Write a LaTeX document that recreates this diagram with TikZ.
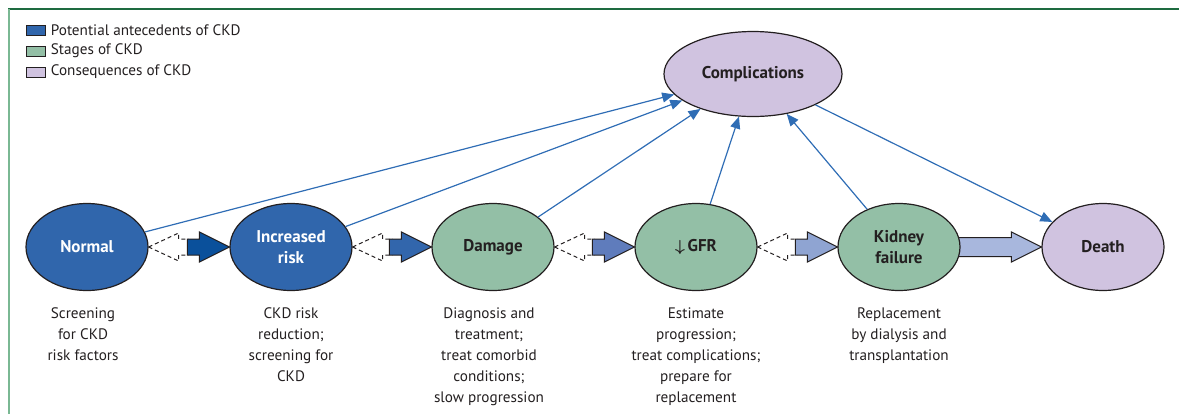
\documentclass[tikz,border=0pt]{standalone}
\usepackage{fontspec}
\setmainfont{PT Sans}
\usepackage{tikz}
\usetikzlibrary{shapes.geometric,arrows.meta,calc,backgrounds,positioning}
\definecolor{antec}{RGB}{48,102,172}
\definecolor{stage}{RGB}{147,191,166}
\definecolor{conseq}{RGB}{208,195,224}
\definecolor{ink}{RGB}{35,31,32}
\definecolor{linkblue}{RGB}{47,109,181}
\definecolor{arrA}{RGB}{10,80,155}
\definecolor{arrB}{RGB}{50,102,172}
\definecolor{arrC}{RGB}{95,124,188}
\definecolor{arrD}{RGB}{143,164,210}
\definecolor{arrE}{RGB}{168,183,221}
\definecolor{frametop}{RGB}{30,107,64}
\definecolor{frameleft}{RGB}{122,184,147}

\begin{document}
\begin{tikzpicture}[x=0.5pt,y=-0.5pt,
		every node/.style={font=\fontsize{7.6}{10.5}\selectfont,text=ink},
		oval/.style={ellipse,draw=ink,line width=0.6pt,minimum width=61pt,minimum height=43.5pt,
			inner sep=0pt,align=center,font=\fontsize{8.5}{10.5}\selectfont\bfseries},
		note/.style={align=center,anchor=north,inner sep=0pt},
		key/.style={draw=ink,line width=0.5pt,minimum width=9.5pt,minimum height=5pt,inner sep=0pt},
		keytext/.style={inner sep=0pt,anchor=west},
		link/.style={draw=linkblue,line width=0.6pt,-{Triangle[length=6pt,width=5pt]}},
		hint/.style={draw=ink,dash pattern=on 2pt off 1.5pt,line width=0.5pt},
		block/.style={draw=ink,line width=0.5pt,line join=miter}]
		\useasboundingbox (0,0) rectangle (1179,414);
		
		% frame
		\draw[frametop,line width=0.9pt] (8,9) -- (1179,9);
		\draw[frameleft,line width=1pt] (9,9) -- (9,414);
		
		% legend
		\node[key,fill=antec] (k1) at (35.5,30) {};
		\node[key,fill=stage] (k2) at (35.5,51) {};
		\node[key,fill=conseq] (k3) at (35.5,72) {};
		\node[keytext,right=2.5pt of k1] (t1) {Potential antecedents of CKD};
		\node[keytext,right=2.5pt of k2] (t2) {Stages of CKD};
		\node[keytext,right=2.5pt of k3] (t3) {Consequences of CKD};
		
		% stages
		\node[oval,fill=antec,text=white] (v1) at (87,247) {Normal};
		\node[oval,fill=antec,text=white] (v2) at (291,247) {Increased\\risk};
		\node[oval,fill=stage] (v3) at (493,247) {Damage};
		\node[oval,fill=stage] (v4) at (696,247) {{\boldmath$\downarrow$}\,GFR};
		\node[oval,fill=stage] (v5) at (899,247) {Kidney\\failure};
		\node[oval,fill=conseq] (v6) at (1103,247) {Death};
		\node[oval,fill=conseq,minimum width=89pt,minimum height=42.5pt] (c) at (753,74) {Complications};
		
		% actions below
		\node[note] (a1) at (83,307) {Screening\\for CKD\\risk factors};
		\node[note] (a2) at (291,307) {CKD risk\\reduction;\\screening for\\CKD};
		\node[note] (a3) at (489,307) {Diagnosis and\\treatment;\\treat comorbid\\conditions;\\slow progression};
		\node[note] (a4) at (696,307) {Estimate\\progression;\\treat complications;\\prepare for\\replacement};
		\node[note] (a5) at (899,307) {Replacement\\by dialysis and\\transplantation};
		
		% progression arrows
		\foreach \a/\b/\c in {v1/v2/arrA,v2/v3/arrB,v3/v4/arrC,v4/v5/arrD}{
			\draw[hint] (\a.east) -- ++(30,-14) -- ++(0,6) -- ++(10,0);
			\draw[hint] (\a.east) -- ++(30,14) -- ++(0,-6) -- ++(10,0);
			\draw[block,fill=\c] (\b.west) -- ++(-30,-15) -- ++(0,7) -- ++(-12,0)
				-- ++(0,16) -- ++(12,0) -- ++(0,7) -- cycle;
		}
		\begin{scope}[on background layer]
			\draw[block,fill=arrE] (v6.west) -- ++(-30,-15) -- ++(0,5.5) -- ($(v5.east)+(-8,-9.5)$)
				-- ++(0,19) -- ($(v6.west)+(-30,9.5)$) -- ++(0,5.5) -- cycle;
		\end{scope}
		
		% complications
		\foreach \n in {v1,v2,v3,v4,v5}
			\draw[link] (\n) -- (c);
		\draw[link] (c) -- (v6);
	\end{tikzpicture}
\end{document}
